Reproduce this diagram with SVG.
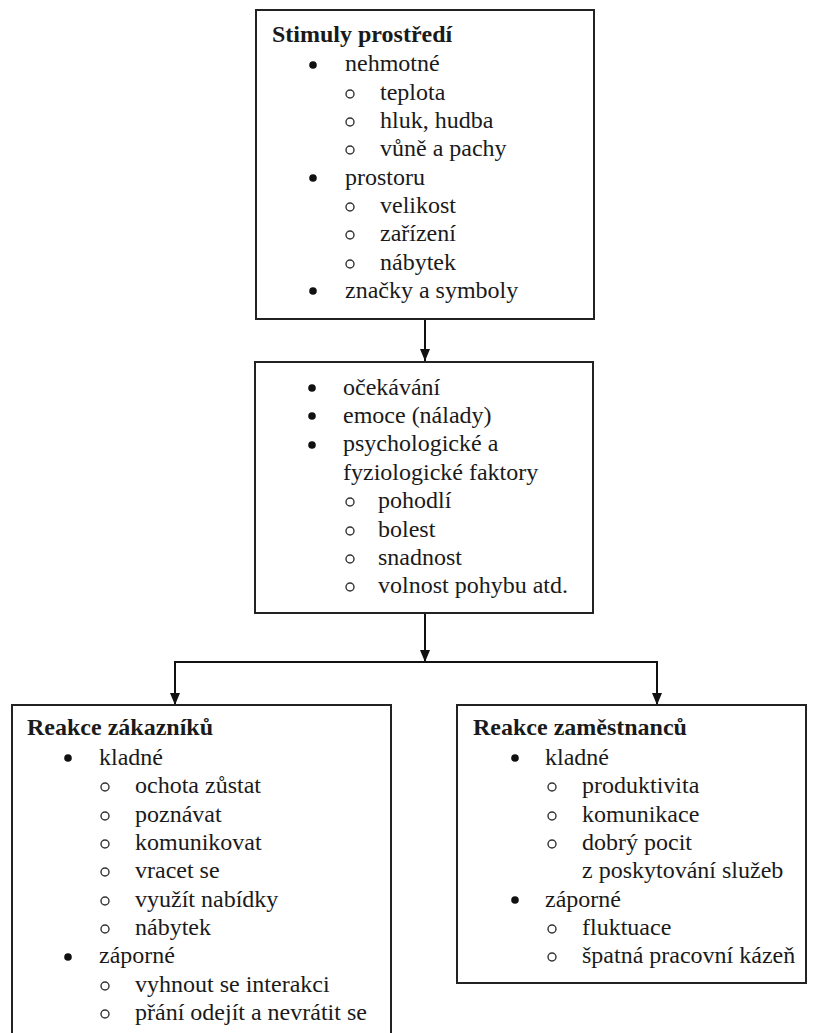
<svg xmlns="http://www.w3.org/2000/svg" width="824" height="1033" viewBox="0 0 824 1033" font-family="'Liberation Serif', 'Times New Roman', Times, serif">
<style>
.box{fill:#fff;stroke:#222;stroke-width:2}
.t{font-family:'Liberation Serif','Times New Roman',Times,serif;font-size:24px;fill:#1a1a1a}
.b{font-weight:bold}
.dot{fill:#111}
.ring{fill:none;stroke:#333;stroke-width:1.4}
.conn{fill:none;stroke:#111;stroke-width:2}
</style>
<defs>
<marker id="ah" viewBox="0 0 10 12" refX="5" refY="12" markerWidth="10" markerHeight="12" orient="0" markerUnits="userSpaceOnUse">
<path d="M0,0 L10,0 L5,12 z" fill="#111"/>
</marker>
</defs>
<rect width="824" height="1033" fill="#fff"/>
<g id="connectors">
<path class="conn" d="M425,319 V361" marker-end="url(#ah)"/>
<path class="conn" d="M425,613 V662" marker-end="url(#ah)"/>
<path class="conn" d="M175,662 H657"/>
<path class="conn" d="M175,661 V705" marker-end="url(#ah)"/>
<path class="conn" d="M657,661 V705" marker-end="url(#ah)"/>
</g>
<g id="stimuly">
<rect class="box" x="256" y="10" width="338" height="309"/>
<text class="t b" x="272" y="42">Stimuly prostředí</text>
<circle class="dot" cx="313" cy="65" r="3.8"/><text class="t" x="345" y="71">nehmotné</text>
<circle class="ring" cx="350" cy="94" r="4"/><text class="t" x="380" y="100">teplota</text>
<circle class="ring" cx="350" cy="122" r="4"/><text class="t" x="380" y="128">hluk, hudba</text>
<circle class="ring" cx="350" cy="150" r="4"/><text class="t" x="380" y="156">vůně a pachy</text>
<circle class="dot" cx="313" cy="178" r="3.8"/><text class="t" x="345" y="185">prostoru</text>
<circle class="ring" cx="350" cy="207" r="4"/><text class="t" x="380" y="213">velikost</text>
<circle class="ring" cx="350" cy="235" r="4"/><text class="t" x="380" y="241">zařízení</text>
<circle class="ring" cx="350" cy="264" r="4"/><text class="t" x="380" y="270">nábytek</text>
<circle class="dot" cx="313" cy="291" r="3.8"/><text class="t" x="345" y="298">značky a symboly</text>
</g>
<g id="vnimani">
<rect class="box" x="255" y="362" width="338" height="251"/>
<circle class="dot" cx="312" cy="388" r="3.8"/><text class="t" x="343" y="395">očekávání</text>
<circle class="dot" cx="312" cy="416" r="3.8"/><text class="t" x="343" y="423">emoce (nálady)</text>
<circle class="dot" cx="312" cy="445" r="3.8"/><text class="t" x="343" y="451">psychologické a</text>
<text class="t" x="343" y="480">fyziologické faktory</text>
<circle class="ring" cx="350" cy="502" r="4"/><text class="t" x="378" y="508">pohodlí</text>
<circle class="ring" cx="350" cy="531" r="4"/><text class="t" x="378" y="537">bolest</text>
<circle class="ring" cx="350" cy="559" r="4"/><text class="t" x="378" y="565">snadnost</text>
<circle class="ring" cx="350" cy="587" r="4"/><text class="t" x="378" y="593">volnost pohybu atd.</text>
</g>
<g id="zakaznici">
<rect class="box" x="12" y="705" width="379" height="340"/>
<text class="t b" x="27" y="735">Reakce zákazníků</text>
<circle class="dot" cx="68" cy="758" r="3.8"/><text class="t" x="99" y="765">kladné</text>
<circle class="ring" cx="105" cy="787" r="4"/><text class="t" x="135" y="793">ochota zůstat</text>
<circle class="ring" cx="105" cy="816" r="4"/><text class="t" x="135" y="822">poznávat</text>
<circle class="ring" cx="105" cy="844" r="4"/><text class="t" x="135" y="850">komunikovat</text>
<circle class="ring" cx="105" cy="872" r="4"/><text class="t" x="135" y="878">vracet se</text>
<circle class="ring" cx="105" cy="901" r="4"/><text class="t" x="135" y="907">využít nabídky</text>
<circle class="ring" cx="105" cy="929" r="4"/><text class="t" x="135" y="935">nábytek</text>
<circle class="dot" cx="68" cy="957" r="3.8"/><text class="t" x="99" y="963">záporné</text>
<circle class="ring" cx="105" cy="986" r="4"/><text class="t" x="135" y="992">vyhnout se interakci</text>
<circle class="ring" cx="105" cy="1014" r="4"/><text class="t" x="135" y="1020">přání odejít a nevrátit se</text>
</g>
<g id="zamestnanci">
<rect class="box" x="457" y="705" width="349" height="278"/>
<text class="t b" x="473" y="735">Reakce zaměstnanců</text>
<circle class="dot" cx="515" cy="758" r="3.8"/><text class="t" x="545" y="765">kladné</text>
<circle class="ring" cx="552" cy="787" r="4"/><text class="t" x="582" y="793">produktivita</text>
<circle class="ring" cx="552" cy="816" r="4"/><text class="t" x="582" y="822">komunikace</text>
<circle class="ring" cx="552" cy="844" r="4"/><text class="t" x="582" y="850">dobrý pocit</text>
<text class="t" x="582" y="878">z poskytování služeb</text>
<circle class="dot" cx="515" cy="900" r="3.8"/><text class="t" x="545" y="907">záporné</text>
<circle class="ring" cx="552" cy="929" r="4"/><text class="t" x="582" y="935">fluktuace</text>
<circle class="ring" cx="552" cy="957" r="4"/><text class="t" x="582" y="963">špatná pracovní kázeň</text>
</g>
</svg>
